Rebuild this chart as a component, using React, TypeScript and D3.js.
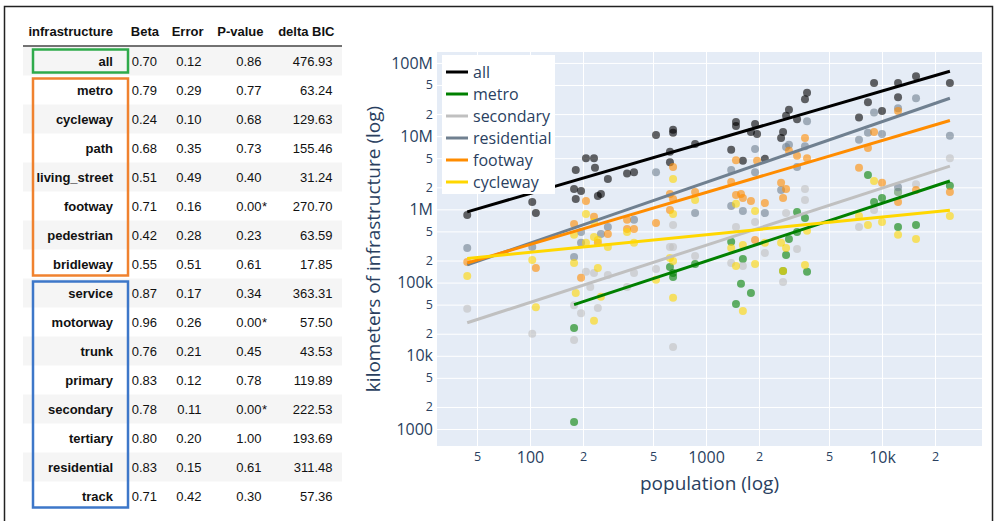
import React, { useEffect, useRef } from "react";
import * as d3 from "d3";

// ---- regression table ----
const infrastructure = [
  "all", "metro", "cycleway", "path", "living_street", "footway", "pedestrian", "bridleway",
  "service", "motorway", "trunk", "primary", "secondary", "tertiary", "residential", "track",
];
const betaValues = ["0.70", "0.79", "0.24", "0.68", "0.51", "0.71", "0.42", "0.55", "0.87", "0.96", "0.76", "0.83", "0.78", "0.80", "0.83", "0.71"];
const errorValues = ["0.12", "0.29", "0.10", "0.35", "0.49", "0.16", "0.28", "0.51", "0.17", "0.26", "0.21", "0.12", "0.11", "0.20", "0.15", "0.42"];
const pValues = ["0.86", "0.77", "0.68", "0.73", "0.40", "0.00*", "0.23", "0.61", "0.34", "0.00*", "0.45", "0.78", "0.00*", "1.00", "0.61", "0.30"];
const deltaBIC = ["476.93", "63.24", "129.63", "155.46", "31.24", "270.70", "63.59", "17.85", "363.31", "57.50", "43.53", "119.89", "222.53", "193.69", "311.48", "57.36"];
const tableHeader = ["infrastructure", "Beta", "Error", "P-value", "delta BIC"];
const tableGroups = [
  { from: "all", to: "all", color: "#2faa4b" },
  { from: "metro", to: "bridleway", color: "#f0822f" },
  { from: "service", to: "track", color: "#3d77c9" },
];

// ---- scatter: [population, km] ----
const allPoints: [number, number][] = [
  [44, 840e3], [103, 1.26e6], [108, 890e3], [178, 1.9e6], [182, 1.39e6], [182, 3.45e6], [195, 1.78e6],
  [208, 5.0e6], [231, 5.0e6], [234, 3.7e6], [243, 1.52e6], [253, 1.62e6], [277, 2.6e6], [356, 3.1e6],
  [390, 3.2e6], [520, 10.4e6], [624, 6.1e6], [624, 4.4e6], [650, 12.2e6], [650, 11.1e6], [867, 7.8e6],
  [1390, 6.5e6], [1480, 15.6e6], [1480, 13.8e6], [1620, 4.6e6], [1800, 11.4e6], [1900, 14.7e6],
  [1950, 10.7e6], [2160, 4.9e6], [2670, 9.4e6], [2740, 11.4e6], [2850, 19e6], [2960, 23e6], [3290, 17e6],
  [3650, 32e6], [3750, 39e6], [7400, 18e6], [8320, 29e6], [9010, 53e6], [10000, 22e6], [12330, 53e6],
  [12330, 34e6], [15600, 66e6], [24300, 53e6],
];
const metroPoints: [number, number][] = [
  [178, 24e3], [178, 1250], [624, 163e3], [650, 135e3], [650, 119e3], [867, 180e3], [1390, 360e3],
  [1480, 51e3], [1580, 96e3], [1620, 210e3], [1800, 72e3], [2740, 144e3], [2850, 238e3], [2960, 395e3],
  [3290, 490e3], [3290, 920e3], [3650, 760e3], [3750, 140e3], [8320, 2.95e6], [9010, 1.26e6],
  [10000, 1.43e6], [12330, 1.73e6], [12330, 575e3], [15600, 610e3], [24300, 2.1e6],
];
const secondaryPoints: [number, number][] = [
  [44, 44e3], [103, 20e3], [178, 16.4e3], [178, 49e3], [195, 38e3], [208, 140e3], [220, 87e3],
  [231, 135e3], [243, 45e3], [277, 127e3], [356, 87e3], [390, 135e3], [520, 153e3], [624, 306e3],
  [650, 306e3], [650, 610e3], [650, 13.2e3], [867, 231e3], [1390, 185e3], [1480, 575e3], [1620, 169e3],
  [1900, 670e3], [2160, 254e3], [2740, 102e3], [2850, 890e3], [3290, 288e3], [3650, 1.9e6],
  [3650, 1.34e6], [7400, 575e3], [9010, 980e3], [12330, 1.73e6], [15600, 2.2e6], [24300, 5.0e6],
];
const residentialPoints: [number, number][] = [
  [44, 297e3], [103, 306e3], [178, 224e3], [195, 350e3], [195, 490e3], [253, 460e3], [277, 575e3],
  [390, 720e3], [520, 3.2e6], [867, 890e3], [1390, 3.45e6], [1390, 1.11e6], [1620, 950e3], [1900, 6.7e6],
  [1900, 3.2e6], [2160, 890e3], [2670, 1.84e6], [2850, 7.1e6], [2960, 7.6e6], [3290, 3.8e6],
  [3650, 7.3e6], [3750, 16e6], [7400, 8.9e6], [8320, 11.1e6], [9010, 21e6], [10000, 10.7e6],
  [12330, 24e6], [12330, 2.0e6], [15600, 33e6], [24300, 10.1e6],
];
const footwayPoints: [number, number][] = [
  [44, 191e3], [108, 158e3], [178, 630e3], [195, 116e3], [208, 1.3e6], [231, 790e3], [243, 350e3],
  [277, 460e3], [356, 540e3], [356, 720e3], [390, 540e3], [520, 650e3], [624, 1.62e6], [624, 980e3],
  [650, 3.8e6], [650, 1.39e6], [867, 1.73e6], [1390, 2.37e6], [1480, 4.7e6], [1480, 1.57e6],
  [1580, 1.62e6], [1620, 1.43e6], [1800, 1.3e6], [1900, 380e3], [1950, 4.6e6], [2160, 1.22e6],
  [2670, 2.3e6], [2740, 1.43e6], [2850, 1.9e6], [2960, 6.3e6], [3290, 5.4e6], [3650, 9.4e6],
  [3750, 5.0e6], [7400, 3.7e6], [8320, 6.9e6], [9010, 11.4e6], [10000, 2.3e6], [12330, 22e6],
  [12330, 1.26e6], [15600, 1.84e6], [24300, 1.73e6],
];
const cyclewayPoints: [number, number][] = [
  [44, 123e3], [103, 204e3], [108, 46e3], [178, 185e3], [178, 450e3], [182, 72e3], [208, 865e3],
  [208, 350e3], [231, 670e3], [231, 420e3], [231, 30e3], [243, 158e3], [243, 380e3], [253, 64e3],
  [277, 306e3], [356, 490e3], [390, 350e3], [520, 109e3], [624, 217e3], [650, 197e3], [650, 2.6e6],
  [650, 865e3], [650, 62e3], [867, 1.34e6], [1390, 297e3], [1480, 1.19e6], [1480, 169e3], [1620, 325e3],
  [1620, 41e3], [1900, 950e3], [1900, 180e3], [2160, 350e3], [2670, 350e3], [2740, 144e3],
  [2850, 297e3], [3650, 174e3], [3750, 510e3], [7400, 810e3], [8320, 610e3], [9010, 2.44e6],
  [10000, 670e3], [12330, 450e3], [15600, 395e3], [24300, 810e3],
];

// ---- fits: log10(km) = intercept + beta * log10(pop) ----
const seriesNames = ["all", "metro", "secondary", "residential", "footway", "cycleway"];
const seriesColors = ["#000000", "#008000", "#c0c0c0", "#708090", "#ff8c00", "#ffd700"];
const seriesPoints = [allPoints, metroPoints, secondaryPoints, residentialPoints, footwayPoints, cyclewayPoints];
const fitBeta = [0.7, 0.79, 0.78, 0.83, 0.71, 0.24];
const fitLogIntercept = [4.816, 2.922, 3.169, 3.878, 4.1, 4.934];

const xTickValues = [50, 100, 200, 500, 1000, 2000, 5000, 10000, 20000];
const xTickLabels = ["5", "100", "2", "5", "1000", "2", "5", "10k", "2"];
const yTickValues = [1000, 2000, 5000, 1e4, 2e4, 5e4, 1e5, 2e5, 5e5, 1e6, 2e6, 5e6, 1e7, 2e7, 5e7, 1e8];
const yTickLabels = ["1000", "2", "5", "10k", "2", "5", "100k", "2", "5", "1M", "2", "5", "10M", "2", "5", "100M"];

const App = () => {
  const chartRef = useRef<SVGSVGElement>(null);

  useEffect(() => {
    drawChart();
  }, []);

  const drawChart = () => {
    const svg = d3.select(chartRef.current);
    svg.selectAll("*").remove();

    const tableFont = "'Liberation Sans', Arial, Helvetica, sans-serif";
    const plotFont = "'Open Sans', 'Noto Sans', sans-serif";
    const ink = "#2a3f5f";

    // outer frame
    svg.append("rect")
      .attr("x", 4.5).attr("y", 6.5)
      .attr("width", 988).attr("height", 540)
      .attr("fill", "none").attr("stroke", "#222").attr("stroke-width", 1.5);

    // ---------- table ----------
    const rowScale = d3.scaleBand().domain(infrastructure).range([46.5, 46.5 + 29 * infrastructure.length]);
    const colRight = [113, 157, 201.5, 261.5, 332.5];
    const table = svg.append("g").attr("font-family", tableFont).attr("font-size", 13).attr("fill", "#111");

    table.selectAll("rect.stripe")
      .data(infrastructure.filter((_, i) => i % 2 === 0))
      .join("rect")
      .attr("class", "stripe")
      .attr("x", 23).attr("width", 319)
      .attr("y", d => rowScale(d)!)
      .attr("height", rowScale.bandwidth())
      .attr("fill", "#f5f5f5");

    table.selectAll("text.head")
      .data(tableHeader)
      .join("text")
      .attr("class", "head")
      .attr("x", (d, i) => colRight[i] + (i === 0 ? 0 : 2))
      .attr("y", 31)
      .attr("dy", "0.35em")
      .attr("text-anchor", "end")
      .attr("font-weight", "bold")
      .text(d => d);

    table.append("line")
      .attr("x1", 23).attr("x2", 342).attr("y1", 46).attr("y2", 46)
      .attr("stroke", "#444").attr("stroke-width", 1.5);

    const rows = table.selectAll("g.row")
      .data(infrastructure)
      .join("g")
      .attr("class", "row")
      .attr("transform", d => `translate(0, ${rowScale(d)! + rowScale.bandwidth() / 2})`);

    rows.append("text")
      .attr("x", colRight[0]).attr("dy", "0.35em")
      .attr("text-anchor", "end").attr("font-weight", "bold")
      .text(d => d);
    rows.append("text")
      .attr("x", colRight[1]).attr("dy", "0.35em").attr("text-anchor", "end")
      .text((d, i) => betaValues[i]);
    rows.append("text")
      .attr("x", colRight[2]).attr("dy", "0.35em").attr("text-anchor", "end")
      .text((d, i) => errorValues[i]);
    rows.append("text")
      .attr("x", colRight[3]).attr("dy", "0.35em").attr("text-anchor", "end")
      .text((d, i) => pValues[i].replace("*", ""));
    rows.filter((d, i) => pValues[i].endsWith("*"))
      .append("text")
      .attr("x", colRight[3] + 0.5).attr("dy", "0.35em")
      .text("*");
    rows.append("text")
      .attr("x", colRight[4]).attr("dy", "0.35em").attr("text-anchor", "end")
      .text((d, i) => deltaBIC[i]);

    table.selectAll("rect.group")
      .data(tableGroups)
      .join("rect")
      .attr("class", "group")
      .attr("x", 33).attr("width", 95)
      .attr("y", d => rowScale(d.from)! + 3)
      .attr("height", d => rowScale(d.to)! + rowScale.bandwidth() - rowScale(d.from)! - 6)
      .attr("fill", "none")
      .attr("stroke", d => d.color)
      .attr("stroke-width", 2.5);

    // ---------- scatter plot ----------
    const left = 437, right = 982, top = 52, bottom = 446;
    const x = d3.scaleLog().domain([29.63, 36980]).range([left, right]);
    const y = d3.scaleLog().domain([586, 1.41e8]).range([bottom, top]);

    svg.append("rect")
      .attr("x", left).attr("y", top)
      .attr("width", right - left).attr("height", bottom - top)
      .attr("fill", "#e5ecf6");

    const gridX = svg.append("g")
      .attr("transform", `translate(0, ${bottom})`)
      .call(d3.axisBottom(x).tickValues(xTickValues).tickSize(-(bottom - top)).tickFormat(() => ""));
    const gridY = svg.append("g")
      .attr("transform", `translate(${left}, 0)`)
      .call(d3.axisLeft(y).tickValues(yTickValues).tickSize(-(right - left)).tickFormat(() => ""));
    [gridX, gridY].forEach(g => {
      g.select(".domain").remove();
      g.selectAll("line").attr("stroke", "#fff").attr("stroke-width", 1);
    });

    // points
    seriesPoints.forEach((pts, s) => {
      svg.append("g")
        .selectAll("circle")
        .data(pts)
        .join("circle")
        .attr("cx", d => x(d[0]))
        .attr("cy", d => y(d[1]))
        .attr("r", 4)
        .attr("fill", seriesColors[s])
        .attr("fill-opacity", 0.6);
    });

    // fit lines
    const line = d3.line<number>()
      .x(d => x(d))
      .y(d => y(d));
    seriesPoints.forEach((pts, s) => {
      const ext = d3.extent(pts, d => d[0]) as [number, number];
      const fit = (p: number) => Math.pow(10, fitLogIntercept[s] + fitBeta[s] * Math.log10(p));
      svg.append("path")
        .datum(ext)
        .attr("d", d3.line<number>().x(d => x(d)).y(d => y(fit(d))))
        .attr("fill", "none")
        .attr("stroke", seriesColors[s])
        .attr("stroke-width", 3);
    });
    void line;

    // axes labels
    const xAxis = svg.append("g")
      .attr("transform", `translate(0, ${bottom})`)
      .call(d3.axisBottom(x).tickValues(xTickValues).tickSize(0).tickPadding(6)
        .tickFormat((d, i) => xTickLabels[i]));
    const yAxis = svg.append("g")
      .attr("transform", `translate(${left}, 0)`)
      .call(d3.axisLeft(y).tickValues(yTickValues).tickSize(0).tickPadding(4)
        .tickFormat((d, i) => yTickLabels[i]));
    [xAxis, yAxis].forEach(g => {
      g.select(".domain").remove();
      g.selectAll("text")
        .attr("font-family", plotFont)
        .attr("fill", ink)
        .attr("font-size", function () {
          return (d3.select(this).text().length > 1 ? 16 : 12.5);
        });
    });

    svg.append("text")
      .attr("x", (left + right) / 2).attr("y", 490)
      .attr("text-anchor", "middle")
      .attr("font-family", plotFont).attr("font-size", 19).attr("fill", ink)
      .text("population (log)");
    svg.append("text")
      .attr("transform", `translate(380, ${(top + bottom) / 2}) rotate(-90)`)
      .attr("text-anchor", "middle")
      .attr("font-family", plotFont).attr("font-size", 19).attr("fill", ink)
      .text("kilometers of infrastructure (log)");

    // legend
    const legend = svg.append("g").attr("transform", "translate(442, 55)");
    legend.append("rect")
      .attr("width", 113).attr("height", 139)
      .attr("fill", "#fff");
    const items = legend.selectAll("g.item")
      .data(seriesNames)
      .join("g")
      .attr("class", "item")
      .attr("transform", (d, i) => `translate(0, ${17 + 22 * i})`);
    items.append("line")
      .attr("x1", 4).attr("x2", 26)
      .attr("stroke", (d, i) => seriesColors[i])
      .attr("stroke-width", 3);
    items.append("text")
      .attr("x", 31).attr("dy", "0.35em")
      .attr("font-family", plotFont).attr("font-size", 16).attr("fill", ink)
      .text(d => d);
  };

  return (
    <div>
      <svg
        ref={chartRef}
        width={996}
        height={521}
        style={{ position: "absolute", left: 0, top: 0, background: "#fff" }}
      ></svg>
    </div>
  );
};

export default App;
